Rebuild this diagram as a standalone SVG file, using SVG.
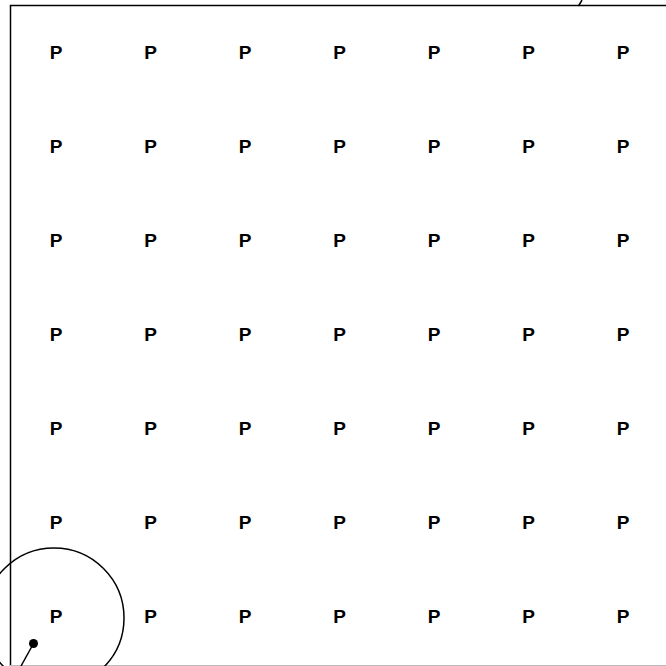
<svg xmlns="http://www.w3.org/2000/svg" width="666" height="666" viewBox="0 0 666 666">
<style>
.lbl{font-family:"Liberation Sans",Arial,sans-serif;font-size:19px;font-weight:bold;fill:#000;text-anchor:middle}
.ln{stroke:#000;stroke-width:1.5;fill:none}
</style>
<rect x="0" y="0" width="666" height="666" fill="#fff"/>
<g id="frame">
<path class="ln" d="M10.5,666 V5.5 H666"/>
<line x1="10" y1="665.5" x2="666" y2="665.5" stroke="#bbb" stroke-width="1"/>
</g>
<g id="nodes">
<g id="r0"><text class="lbl" x="56" y="59">P</text><text class="lbl" x="150.5" y="59">P</text><text class="lbl" x="245" y="59">P</text><text class="lbl" x="339.5" y="59">P</text><text class="lbl" x="434" y="59">P</text><text class="lbl" x="528.5" y="59">P</text><text class="lbl" x="623" y="59">P</text></g>
<g id="r1"><text class="lbl" x="56" y="153">P</text><text class="lbl" x="150.5" y="153">P</text><text class="lbl" x="245" y="153">P</text><text class="lbl" x="339.5" y="153">P</text><text class="lbl" x="434" y="153">P</text><text class="lbl" x="528.5" y="153">P</text><text class="lbl" x="623" y="153">P</text></g>
<g id="r2"><text class="lbl" x="56" y="247">P</text><text class="lbl" x="150.5" y="247">P</text><text class="lbl" x="245" y="247">P</text><text class="lbl" x="339.5" y="247">P</text><text class="lbl" x="434" y="247">P</text><text class="lbl" x="528.5" y="247">P</text><text class="lbl" x="623" y="247">P</text></g>
<g id="r3"><text class="lbl" x="56" y="341">P</text><text class="lbl" x="150.5" y="341">P</text><text class="lbl" x="245" y="341">P</text><text class="lbl" x="339.5" y="341">P</text><text class="lbl" x="434" y="341">P</text><text class="lbl" x="528.5" y="341">P</text><text class="lbl" x="623" y="341">P</text></g>
<g id="r4"><text class="lbl" x="56" y="435">P</text><text class="lbl" x="150.5" y="435">P</text><text class="lbl" x="245" y="435">P</text><text class="lbl" x="339.5" y="435">P</text><text class="lbl" x="434" y="435">P</text><text class="lbl" x="528.5" y="435">P</text><text class="lbl" x="623" y="435">P</text></g>
<g id="r5"><text class="lbl" x="56" y="529">P</text><text class="lbl" x="150.5" y="529">P</text><text class="lbl" x="245" y="529">P</text><text class="lbl" x="339.5" y="529">P</text><text class="lbl" x="434" y="529">P</text><text class="lbl" x="528.5" y="529">P</text><text class="lbl" x="623" y="529">P</text></g>
<g id="r6"><text class="lbl" x="56" y="623">P</text><text class="lbl" x="150.5" y="623">P</text><text class="lbl" x="245" y="623">P</text><text class="lbl" x="339.5" y="623">P</text><text class="lbl" x="434" y="623">P</text><text class="lbl" x="528.5" y="623">P</text><text class="lbl" x="623" y="623">P</text></g>
</g>
<g id="connectors">
<circle class="ln" cx="54" cy="618" r="70" stroke-width="1.2"/>
<circle cx="33.5" cy="643.5" r="4.5" fill="#000"/>
<line class="ln" x1="33.5" y1="643.5" x2="21" y2="666" stroke-width="1.2"/>
<line class="ln" x1="582" y1="0" x2="578.5" y2="6" stroke-width="1.2"/>
</g>
</svg>
